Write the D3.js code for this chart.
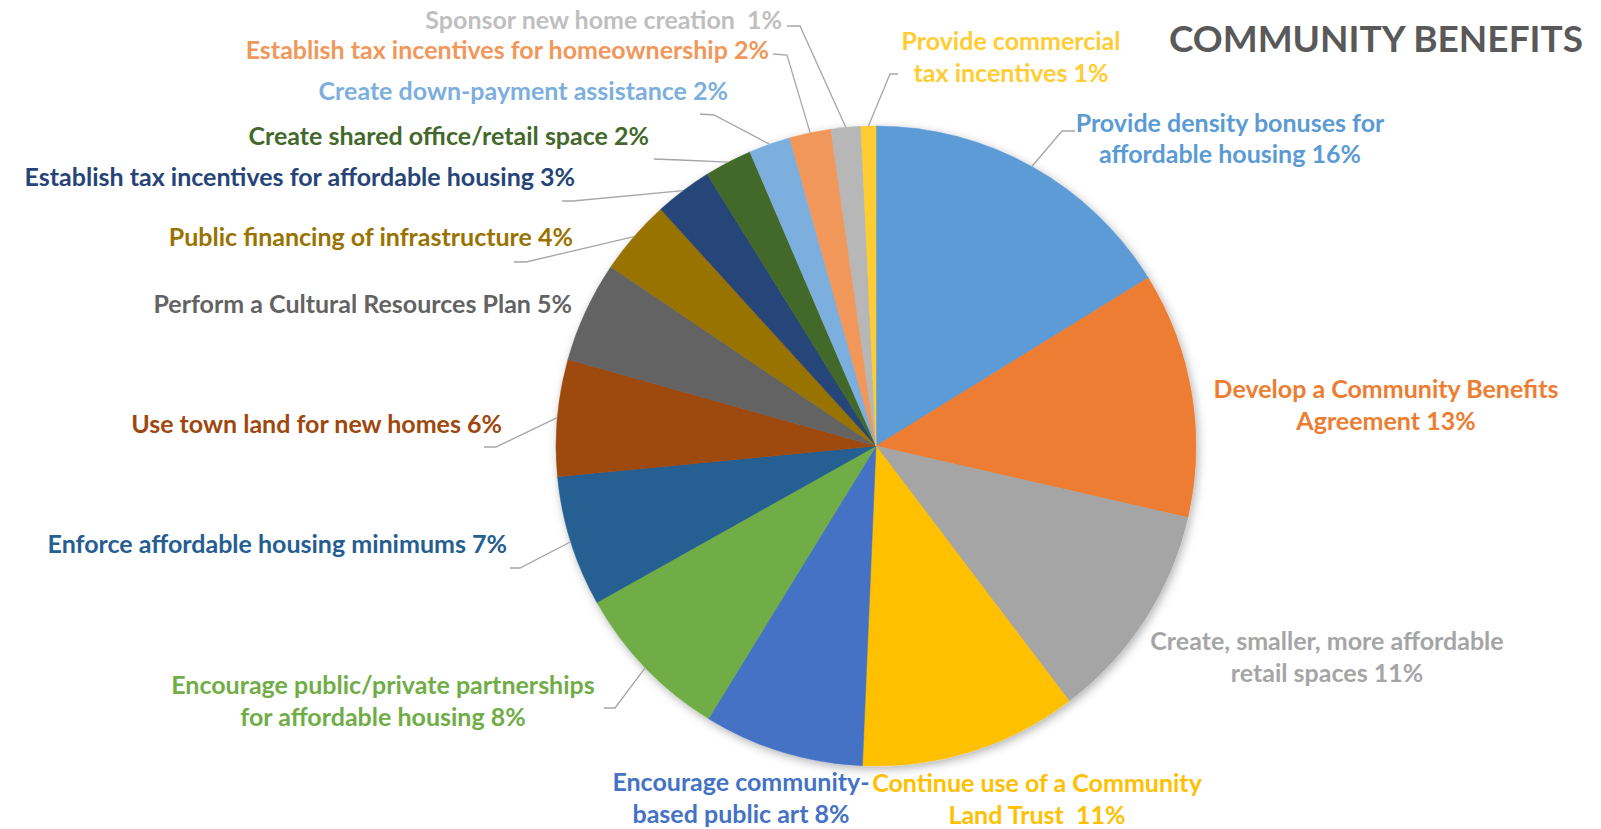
<!DOCTYPE html>
<html><head><meta charset="utf-8">
<script src="https://cdn.jsdelivr.net/npm/d3@7"></script>
<style>
html,body{margin:0;padding:0;background:#fff;}
svg text{font-family:Lato,"Open Sans",sans-serif;font-weight:700;white-space:pre;}
</style></head>
<body>
<svg id="chart" width="1601" height="829"></svg>
<script>
// ---- data ----
const categories = [
  "Provide density bonuses for affordable housing",
  "Develop a Community Benefits Agreement",
  "Create, smaller, more affordable retail spaces",
  "Continue use of a Community Land Trust",
  "Encourage community-based public art",
  "Encourage public/private partnerships for affordable housing",
  "Enforce affordable housing minimums",
  "Use town land for new homes",
  "Perform a Cultural Resources Plan",
  "Public financing of infrastructure",
  "Establish tax incentives for affordable housing",
  "Create shared office/retail space",
  "Create down-payment assistance",
  "Establish tax incentives for homeownership",
  "Sponsor new home creation",
  "Provide commercial tax incentives"
];
const values = [16.2, 12.4, 11.1, 11.0, 8.1, 8.1, 6.6, 5.9, 5.1, 3.8, 2.9, 2.4, 2.1, 2.1, 1.5, 0.75];
const percentLabels = ["16%","13%","11%","11%","8%","8%","7%","6%","5%","4%","3%","2%","2%","2%","1%","1%"];
const labelLines = [
  ["Provide density bonuses for", "affordable housing 16%"],
  ["Develop a Community Benefits", "Agreement 13%"],
  ["Create, smaller, more affordable", "retail spaces 11%"],
  ["Continue use of a Community", "Land Trust  11%"],
  ["Encourage community-", "based public art 8%"],
  ["Encourage public/private partnerships", "for affordable housing 8%"],
  ["Enforce affordable housing minimums 7%"],
  ["Use town land for new homes 6%"],
  ["Perform a Cultural Resources Plan 5%"],
  ["Public financing of infrastructure 4%"],
  ["Establish tax incentives for affordable housing 3%"],
  ["Create shared office/retail space 2%"],
  ["Create down-payment assistance 2%"],
  ["Establish tax incentives for homeownership 2%"],
  ["Sponsor new home creation  1%"],
  ["Provide commercial", "tax incentives 1%"]
];
const titleText = "COMMUNITY BENEFITS";

// ---- styles / layout ----
const colors = ["#5B9BD5","#ED7D31","#A5A5A5","#FFC000","#4472C4","#70AD47","#255E91","#9E480E",
                "#636363","#997300","#264478","#43682B","#7CAFDD","#F1975A","#B7B7B7","#FFCD33"];
const textColors = colors.slice();
textColors[14] = "#BFBFBF";
// label layout: anchor, x, y (center of first line)
const labelLayout = [
  {a:"middle", x:1230, y:122.5},
  {a:"middle", x:1386, y:389},
  {a:"middle", x:1327, y:641},
  {a:"middle", x:1037, y:783},
  {a:"middle", x:741,  y:782},
  {a:"middle", x:383,  y:685},
  {a:"end", x:507, y:544},
  {a:"end", x:502, y:424},
  {a:"end", x:572, y:304},
  {a:"end", x:573, y:237},
  {a:"end", x:575, y:177},
  {a:"end", x:649, y:136},
  {a:"end", x:728, y:91},
  {a:"end", x:769, y:49.5},
  {a:"end", x:782, y:19.5},
  {a:"middle", x:1011, y:41}
];
// leader lines: start point and elbow; end = slice midpoint on rim
const leaders = {
  0: [[1075,131],[1062,131]],
  5: [[604,708],[615,708]],
  6: [[510,568],[520,568]],
  7: [[484,447],[496,447]],
  9: [[514,262],[526,262]],
  10: [[562,201],[573,201]],
  11: [[654,159],[680,160]],
  12: [[700,114],[714,115]],
  13: [[773,54],[787,55]],
  14: [[787,26],[800,26]],
  15: [[898,74],[890,74]]
};
const cx = 876, cy = 446, R = 320;
const lineGap = 31.5;
const fontSize = 25;

const svg = d3.select("#chart");
const defs = svg.append("defs");
const f = defs.append("filter").attr("id","shadow").attr("x","-20%").attr("y","-20%").attr("width","140%").attr("height","140%");
f.append("feDropShadow").attr("dx",2).attr("dy",3).attr("stdDeviation",5).attr("flood-color","#000").attr("flood-opacity",0.3);

const pie = d3.pie().sort(null).value(d => d);
const arcs = pie(values);
const arc = d3.arc().innerRadius(0).outerRadius(R);

const g = svg.append("g").attr("transform", `translate(${cx},${cy})`);
g.append("g").attr("filter","url(#shadow)")
  .selectAll("path").data(arcs).join("path")
  .attr("d", arc)
  .attr("fill", (d,i) => colors[i])
  .attr("stroke", (d,i) => colors[i])
  .attr("stroke-width", 0.5);

// leader lines
const line = d3.line();
Object.keys(leaders).forEach(k => {
  const i = +k;
  const a = arcs[i];
  const mid = (a.startAngle + a.endAngle) / 2;
  const end = [cx + R * Math.sin(mid), cy - R * Math.cos(mid)];
  svg.append("path")
    .attr("d", line([leaders[k][0], leaders[k][1], end]))
    .attr("fill","none").attr("stroke","#A6A6A6").attr("stroke-width",1.3);
});

// labels
labelLines.forEach((lines, i) => {
  const L = labelLayout[i];
  const t = svg.append("text")
    .attr("text-anchor", L.a)
    .attr("fill", textColors[i])
    .attr("font-size", fontSize);
  lines.forEach((s, j) => {
    t.append("tspan").attr("x", L.x).attr("y", L.y + j * lineGap).attr("dy","0.36em").text(s);
  });
});

// title
svg.append("text")
  .attr("x", 1583).attr("y", 39).attr("dy","0.36em")
  .attr("text-anchor","end")
  .attr("fill","#595959")
  .attr("font-size", 37)
  .text(titleText);
</script>
</body></html>
